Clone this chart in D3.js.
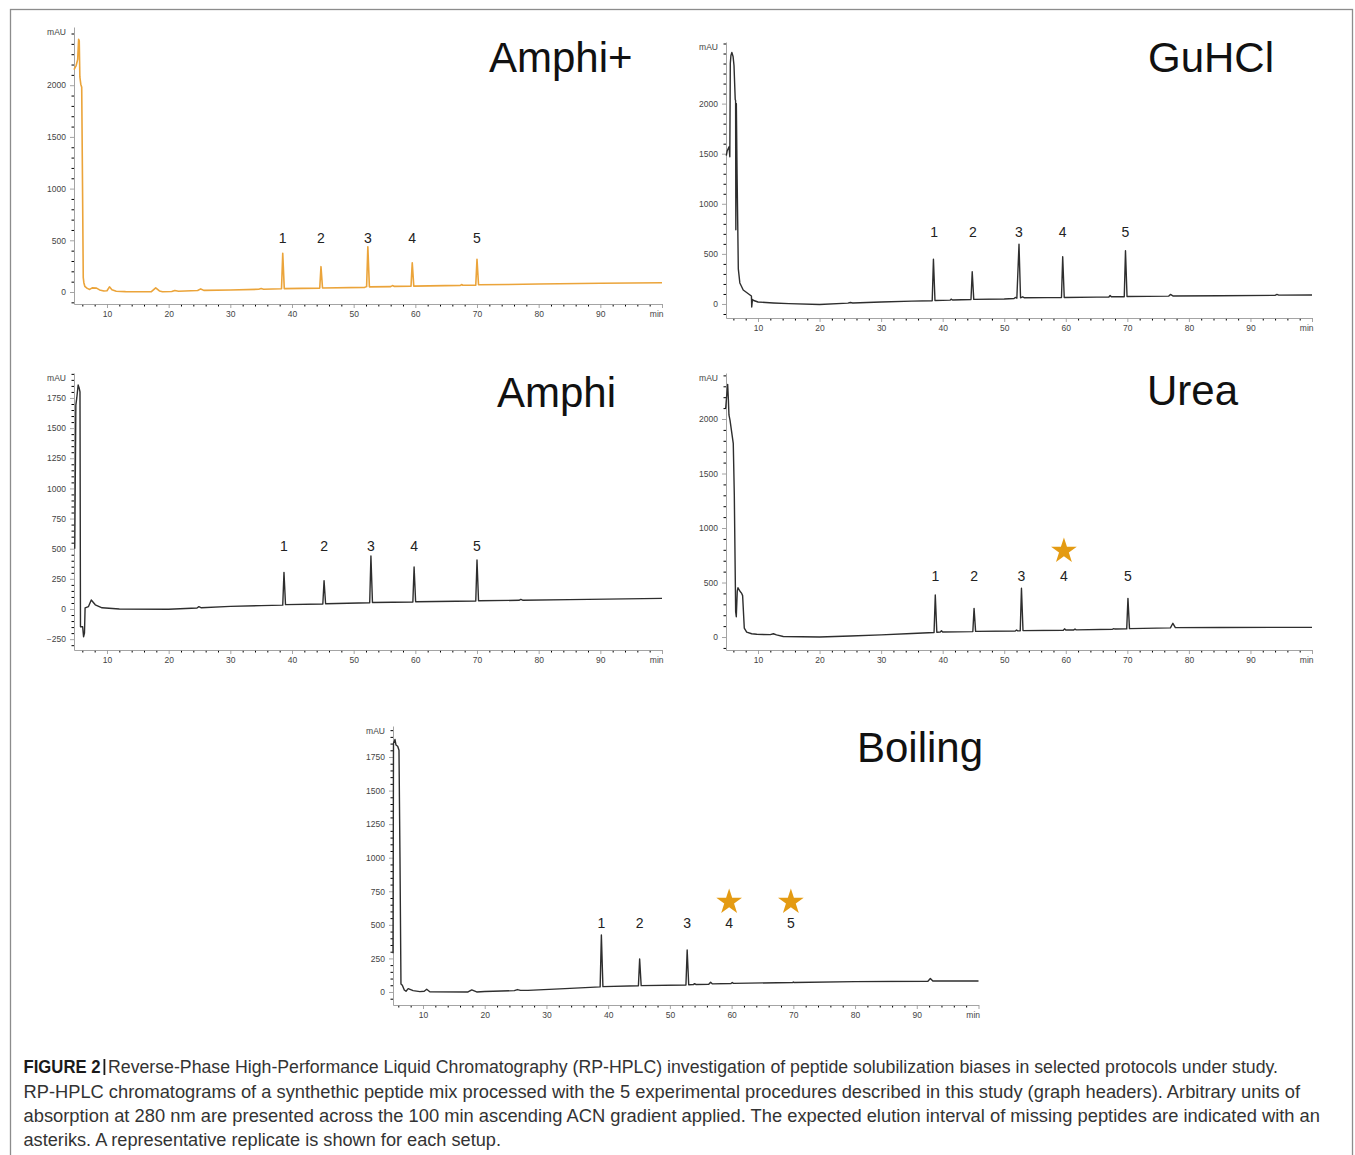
<!DOCTYPE html>
<html>
<head>
<meta charset="utf-8">
<script src="https://cdn.jsdelivr.net/npm/d3@7"></script>
<style>
  body { margin: 0; background: #fff; }
  svg { display: block; }
</style>
</head>
<body>
<svg id="fig" width="1355" height="1155"></svg>
<script>
// ---- Chromatogram traces: [retention time (min), absorbance (mAU)] ----
const amphiPlusTrace = [
  [4.65,2150],[5.0,2190],[5.25,2250],[5.4,2445],[5.5,2430],[5.6,2080],[5.75,2010],[5.9,1980],
  [6.05,900],[6.15,140],[6.25,90],[6.4,55],[6.8,35],[7.2,25],[7.6,40],[8.3,38],[8.8,20],[9.5,10],
  [10.0,12],[10.4,50],[10.8,22],[11.5,8],[13,4],[17.2,3],[17.9,40],[18.5,10],[19,3],[20.5,5],
  [21,15],[21.6,8],[24.7,14],[25.2,30],[25.7,16],[30,20],[34.6,26],[35,33],[35.4,27],
  [38.3,32],[38.5,374],[38.75,33],[44.5,38],[44.7,245],[44.95,39],[51.8,45],[52.1,52],
  [52.3,438],[52.55,50],[56,52],[56.3,62],[56.6,54],[59.3,55],[59.5,283],[59.75,57],
  [67.3,64],[67.5,72],[67.7,65],[69.8,66],[70.0,316],[70.25,70],[75,73],[80,77],[90,84],[100,90]
];
const guhclTrace = [
  [4.85,1480],[5.0,1530],[5.3,1570],[5.42,1470],[5.5,2400],[5.6,2480],[5.75,2510],[5.95,2470],
  [6.1,2380],[6.3,2040],[6.36,2030],[6.4,740],[6.48,2000],[6.6,1300],[6.8,350],[7.05,210],
  [7.6,140],[8.7,90],[8.93,80],[8.98,-30],[9.1,45],[9.3,35],[10,20],[12.5,10],[15,3],[20,-5],
  [24.6,8],[25,15],[25.4,10],[30,20],[35,28],[38.3,32],[38.5,446],[38.75,35],[41.2,38],
  [41.4,48],[41.6,40],[44.6,45],[44.8,322],[45.05,46],[50,50],[51.6,55],[51.8,65],[52.05,58],
  [52.4,596],[52.65,62],[53.0,72],[53.3,62],[57,63],[59.3,64],[59.5,472],[59.75,65],[65,68],
  [67.0,70],[67.2,85],[67.4,72],[69.5,72],[69.7,532],[69.95,74],[76.7,78],[77.0,95],[77.4,80],
  [85,82],[94,86],[94.3,95],[94.6,88],[100,90]
];
const amphiTrace = [
  [4.77,500],[4.95,1690],[5.1,1750],[5.32,1857],[5.5,1830],[5.62,1800],[5.7,-147],[6.05,-147],
  [6.2,-230],[6.35,-200],[6.45,10],[7.0,20],[7.45,75],[8.1,35],[9.2,10],[12,0],[20,-2],
  [24.6,8],[24.9,20],[25.3,10],[30,22],[35,28],[38.5,32],[38.7,304],[38.95,36],[45.0,42],
  [45.2,235],[45.45,44],[52.6,52],[52.8,440],[53.05,54],[59.6,58],[59.8,348],[60.05,60],
  [69.8,66],[70.0,406],[70.25,68],[76.8,72],[77.1,80],[77.4,73],[85,78],[100,88]
];
const ureaTrace = [
  [4.75,2098],[4.9,2205],[5.07,2318],[5.17,2200],[5.28,2037],[5.45,1990],[5.98,1777],[6.15,1300],
  [6.37,232],[6.47,186],[6.63,420],[6.75,452],[7.07,420],[7.35,400],[7.5,380],[7.77,82],
  [8.16,45],[8.97,30],[9.8,25],[12.0,22],[12.5,30],[13.0,20],[14.1,5],[20,0],[25,10],[30,20],
  [35,32],[38.6,42],[38.8,385],[39.05,44],[39.6,45],[39.8,58],[40.0,46],[44.9,50],[45.1,263],
  [45.35,52],[51.8,55],[52.0,64],[52.2,56],[52.6,57],[52.8,447],[53.05,59],[59.6,62],[59.8,75],
  [60.0,64],[61.3,65],[61.5,73],[61.7,66],[67.6,72],[67.8,77],[68.0,73],[69.9,75],[70.1,355],
  [70.35,77],[77.0,84],[77.4,126],[77.8,86],[85,88],[100,89]
];
const boilingTrace = [
  [5.14,288],[5.22,1852],[5.46,1881],[5.62,1840],[5.9,1830],[6.11,1800],[6.27,1000],[6.43,60],
  [6.65,50],[6.97,15],[7.25,5],[7.6,25],[8.4,10],[9.5,3],[10.2,5],[10.6,20],[11.1,2],[17.3,0],
  [17.9,15],[18.7,0],[20,3],[24.8,10],[25.3,18],[25.8,12],[27,12],[33,25],[38.7,38],[38.9,424],
  [39.15,40],[44.9,46],[45.1,246],[45.35,47],[52.6,52],[52.8,313],[53.05,54],[53.8,55],[54.0,62],
  [54.2,56],[56.3,58],[56.6,73],[56.9,60],[59.9,63],[60.1,71],[60.3,64],[69.9,71],[70.0,75],
  [70.1,71],[80,77],[91.8,80],[92.2,100],[92.6,82],[100,82]
];

// ---- Peak annotations ----
const peakNumbers = ["1", "2", "3", "4", "5"];
const amphiPlusPeakTimes = [38.5, 44.7, 52.3, 59.5, 70.0];
const guhclPeakTimes     = [38.6, 44.9, 52.4, 59.5, 69.7];
const amphiPeakTimes     = [38.7, 45.2, 52.8, 59.8, 70.0];
const ureaPeakTimes      = [38.8, 45.1, 52.8, 59.7, 70.1];
const boilingPeakTimes   = [38.9, 45.1, 52.8, 59.6, 69.6];
const ureaMissing    = ["4"];
const boilingMissing = ["4", "5"];

// ---- Axis ticks ----
const xTickValues = [10, 20, 30, 40, 50, 60, 70, 80, 90, 100];
const xTickLabels = ["10", "20", "30", "40", "50", "60", "70", "80", "90", "min"];
const yTicks500 = [0, 500, 1000, 1500, 2000];
const yTicks250Neg = [-250, 0, 250, 500, 750, 1000, 1250, 1500, 1750];
const yTicks250 = [0, 250, 500, 750, 1000, 1250, 1500, 1750];

// ---- Caption ----
const captionLead = "FIGURE 2";
const captionLines = [
  "Reverse-Phase High-Performance Liquid Chromatography (RP-HPLC) investigation of peptide solubilization biases in selected protocols under study.",
  "RP-HPLC chromatograms of a synthethic peptide mix processed with the 5 experimental procedures described in this study (graph headers). Arbitrary units of",
  "absorption at 280 nm are presented across the 100 min ascending ACN gradient applied. The expected elution interval of missing peptides are indicated with an",
  "asteriks. A representative replicate is shown for each setup."
];

// ---- Panel layout ----
const ORANGE = "#eba43a";
const STAR = "#e49b13";
const INK = "#2e2e2e";
const panels = [
  { title: "Amphi+", trace: amphiPlusTrace, peaks: amphiPlusPeakTimes, missing: [], color: ORANGE,
    left: 74, right: 662, top: 27, bottom: 304, xMin: 4.65, yMin: -116, yMax: 2563,
    yTicks: yTicks500, yMinor: 100, labelY: 243, titleX: 489, titleY: 72 },
  { title: "GuHCl", trace: guhclTrace, peaks: guhclPeakTimes, missing: [], color: INK,
    left: 726, right: 1312, top: 42, bottom: 318, xMin: 4.8, yMin: -140, yMax: 2615,
    yTicks: yTicks500, yMinor: 100, labelY: 237, titleX: 1148, titleY: 72 },
  { title: "Amphi", trace: amphiTrace, peaks: amphiPeakTimes, missing: [], color: INK,
    left: 74, right: 662, top: 373, bottom: 650, xMin: 4.65, yMin: -340, yMax: 1957,
    yTicks: yTicks250Neg, yMinor: 50, labelY: 551, titleX: 497, titleY: 407 },
  { title: "Urea", trace: ureaTrace, peaks: ureaPeakTimes, missing: ureaMissing, color: INK,
    left: 726, right: 1312, top: 373, bottom: 650, xMin: 4.8, yMin: -119, yMax: 2422,
    yTicks: yTicks500, yMinor: 100, labelY: 581, starY: 551, titleX: 1147, titleY: 405 },
  { title: "Boiling", trace: boilingTrace, peaks: boilingPeakTimes, missing: boilingMissing, color: INK,
    left: 393, right: 978.5, top: 726, bottom: 1005, xMin: 5.14, yMin: -97, yMax: 1981,
    yTicks: yTicks250, yMinor: 50, labelY: 928, starY: 902, titleX: 857, titleY: 762 }
];

const svg = d3.select("#fig");
const FONT = "'Liberation Sans', Arial, Helvetica, sans-serif";

// outer frame
svg.append("rect")
  .attr("x", 10.5).attr("y", 9.5).attr("width", 1342).attr("height", 1170)
  .attr("fill", "none").attr("stroke", "#8c8c8c").attr("stroke-width", 1.3);

panels.forEach(p => {
  const g = svg.append("g");
  const x = d3.scaleLinear().domain([p.xMin, 100]).range([p.left, p.right]);
  const y = d3.scaleLinear().domain([p.yMin, p.yMax]).range([p.bottom, p.top]);

  // minor ticks
  const xMinor = d3.range(6, 100, 2).filter(v => v % 10 !== 0 && v >= p.xMin);
  g.append("g").attr("transform", `translate(0,${p.bottom})`)
    .call(d3.axisBottom(x).tickValues(xMinor).tickSize(2.5).tickFormat(""))
    .call(a => a.select(".domain").remove());
  const yStart = Math.ceil(p.yMin / p.yMinor) * p.yMinor;
  const yMinorVals = d3.range(yStart, p.yMax, p.yMinor).filter(v => !p.yTicks.includes(v));
  g.append("g").attr("transform", `translate(${p.left},0)`)
    .call(d3.axisLeft(y).tickValues(yMinorVals).tickSize(2.5).tickFormat(""))
    .call(a => a.select(".domain").remove());

  // major axes
  const xa = g.append("g").attr("transform", `translate(0,${p.bottom})`)
    .call(d3.axisBottom(x).tickValues(xTickValues).tickSize(4).tickPadding(3)
      .tickFormat((d, i) => xTickLabels[i]).tickSizeOuter(0));
  const ya = g.append("g").attr("transform", `translate(${p.left},0)`)
    .call(d3.axisLeft(y).tickValues(p.yTicks).tickSize(4).tickPadding(4)
      .tickFormat(d3.format("d")).tickSizeOuter(0));
  [xa, ya].forEach(a => {
    a.selectAll("path, line").attr("stroke", "#9a9a9a").attr("stroke-width", 0.9);
    a.selectAll("text").attr("font-family", FONT).attr("font-size", 8.5).attr("fill", "#444");
  });
  xa.selectAll(".tick text").filter(d => d === 100).attr("text-anchor", "end").attr("dx", 1);
  g.append("text").attr("x", p.left - 8).attr("y", p.top + 5).attr("dy", "0.35em")
    .attr("text-anchor", "end").attr("font-family", FONT).attr("font-size", 8.5)
    .attr("fill", "#444").text("mAU");

  // trace
  const line = d3.line().x(d => x(d[0])).y(d => y(d[1]));
  g.append("path").datum(p.trace)
    .attr("d", line).attr("fill", "none").attr("stroke", p.color)
    .attr("stroke-width", p.color === ORANGE ? 1.6 : 1.4).attr("stroke-linejoin", "round");

  // peak labels
  g.selectAll(".peak").data(peakNumbers).join("text")
    .attr("x", (d, i) => x(p.peaks[i])).attr("y", p.labelY)
    .attr("text-anchor", "middle").attr("font-family", FONT).attr("font-size", 14)
    .attr("fill", "#222").text(d => d);

  // stars over peptides that did not elute
  const star = d3.symbol(d3.symbolStar).size(205);
  g.selectAll(".star").data(p.missing).join("path")
    .attr("d", star)
    .attr("transform", d => `translate(${x(p.peaks[peakNumbers.indexOf(d)])},${p.starY})`)
    .attr("fill", STAR);

  // header
  g.append("text").attr("x", p.titleX).attr("y", p.titleY)
    .attr("font-family", FONT).attr("font-size", 42).attr("fill", "#111").text(p.title);
});

// caption block
const cap = svg.append("g").attr("font-family", FONT).attr("font-size", 17.5);
cap.append("text").attr("x", 23.5).attr("y", 1073).attr("font-weight", "bold")
  .attr("fill", "#1a1a1a").attr("textLength", 77).attr("lengthAdjust", "spacingAndGlyphs")
  .text(captionLead);
cap.append("rect").attr("x", 103.5).attr("y", 1059).attr("width", 1.8).attr("height", 16).attr("fill", "#1a1a1a");
const capEnds = [1278, 1300, 1320, 501];
const capStarts = [108, 23.5, 23.5, 23.5];
const capBaselines = [1073, 1097.5, 1121.5, 1146];
captionLines.forEach((t, i) => {
  cap.append("text").attr("x", capStarts[i]).attr("y", capBaselines[i])
    .attr("fill", "#333").attr("textLength", capEnds[i] - capStarts[i])
    .attr("lengthAdjust", "spacingAndGlyphs").text(t);
});
</script>
</body>
</html>
